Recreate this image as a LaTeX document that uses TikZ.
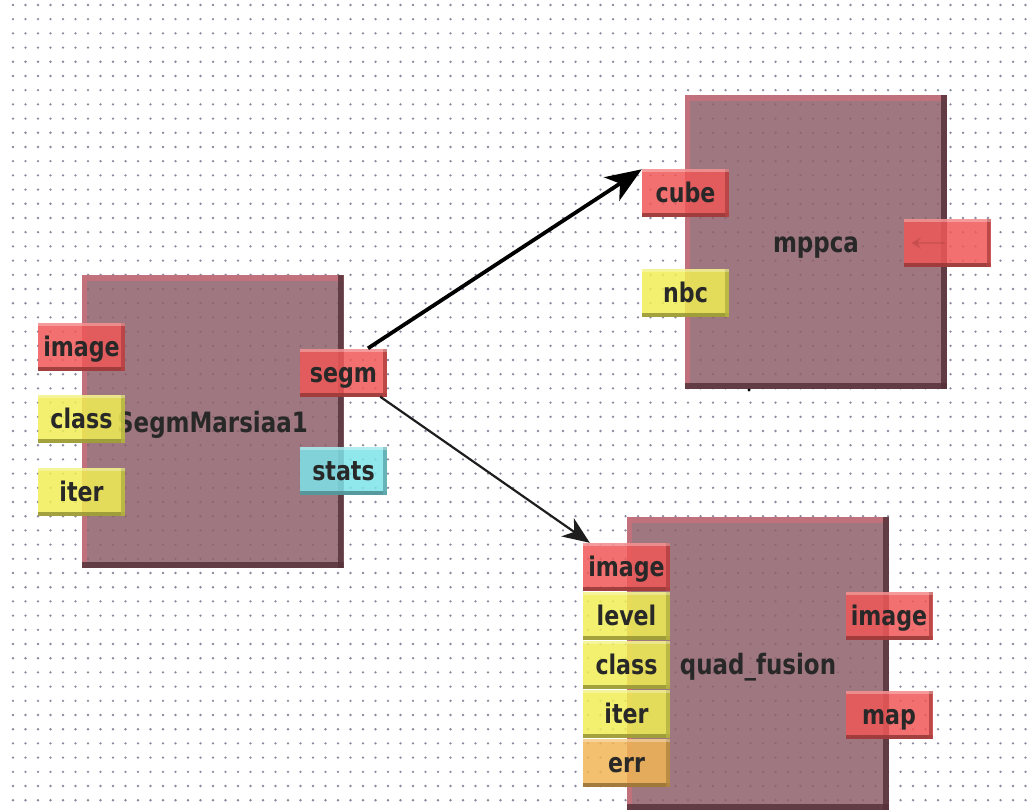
\documentclass[tikz,border=0pt]{standalone}
\usepackage{fontspec}
\newfontfamily\boxfont{DejaVu Sans}[FakeStretch=0.82]
\usetikzlibrary{arrows.meta}

\definecolor{modbody}{RGB}{143,96,106}
\definecolor{modtop}{RGB}{200,112,124}
\definecolor{modshade}{RGB}{88,50,58}
\definecolor{portred}{RGB}{240,88,88}
\definecolor{portyellow}{RGB}{240,238,85}
\definecolor{portcyan}{RGB}{126,228,233}
\definecolor{portorange}{RGB}{240,181,85}
\definecolor{labelgray}{RGB}{40,40,40}
\definecolor{griddot}{RGB}{138,138,158}
\definecolor{wire}{RGB}{30,30,30}

\tikzset{
  module/.style={fill=modbody, fill opacity=0.85, text opacity=1,
    minimum width=262pt, minimum height=293pt, inner sep=0pt,
    text=labelgray, font=\boxfont\bfseries\fontsize{28}{30}\selectfont,
    text height=23pt, text depth=2pt,
    path picture={
      \fill[modtop] (path picture bounding box.north west) rectangle ([yshift=-6pt]path picture bounding box.north east);
      \fill[modtop] (path picture bounding box.north west) rectangle ([xshift=5pt]path picture bounding box.south west);
      \fill[modshade] ([xshift=-6pt]path picture bounding box.north east) rectangle (path picture bounding box.south east);
      \fill[modshade] ([yshift=6pt]path picture bounding box.south west) rectangle (path picture bounding box.south east);
    }},
  port/.style={fill=#1, fill opacity=0.85, text opacity=1,
    minimum width=87pt, minimum height=48pt, inner sep=0pt,
    text=labelgray, font=\boxfont\bfseries\fontsize{27}{29}\selectfont,
    text height=22pt, text depth=3pt,
    path picture={
      \fill[#1!62!black] ([yshift=4pt]path picture bounding box.south west) rectangle (path picture bounding box.south east);
      \fill[#1!75!black] ([xshift=-4pt]path picture bounding box.north east) rectangle (path picture bounding box.south east);
      \fill[white, fill opacity=0.3] (path picture bounding box.north west) rectangle ([yshift=-3pt]path picture bounding box.north east);
    }},
  wirebold/.style={draw=black, line width=3.8pt,
    -{Stealth[length=36pt, width=28pt, inset=10pt]}},
  wirethin/.style={draw=wire, line width=2.2pt,
    -{Stealth[length=27pt, width=22pt, inset=8pt]}},
}

\begin{document}
\begin{tikzpicture}[x=1pt, y=-1pt]
  % canvas and dotted grid
  \fill[white] (0,0) rectangle (1035,810);
  \useasboundingbox (0,0) rectangle (1035,810);
  \foreach \i in {0,...,82}
    \foreach \j in {0,...,57}
      \fill[griddot] ({13+12.5*\i},{5+14.2*\j}) circle[radius=1.3pt];

  % module bodies
  \node[module] (segmbox) at (212.5,421.5) {SegmMarsiaa1};
  \node[module] (mppcabox) at (816,242) {mppca};
  \node[module] (quadbox) at (758,663.5) {quad\_fusion};
  \fill[black] (749,390) circle[radius=1.6pt];

  % SegmMarsiaa1 ports
  \node[port=portred]    (simage) at (81.5,347)  {image};
  \node[port=portyellow] (sclass) at (81.5,419)  {class};
  \node[port=portyellow] (siter)  at (81.5,491.5) {iter};
  \node[port=portred]    (segm)   at (343.5,372.5) {segm};
  \node[port=portcyan]   (stats)  at (343.5,471) {stats};

  % mppca ports
  \node[port=portred]    (cube) at (685.5,193.5) {cube};
  \node[port=portyellow] (nbc)  at (685.5,292.5) {nbc};
  \node[port=portred]    (mout) at (947,243) {};
  \draw[portred!55!black, opacity=0.18, line width=2.5pt, -{Stealth[length=10pt, width=12pt]}]
    ([xshift=-2pt]mout.center) -- ([xshift=-36pt]mout.center);

  % quad_fusion ports
  \node[port=portred]    (qimage) at (626.5,567)   {image};
  \node[port=portyellow] (qlevel) at (626.5,615.5) {level};
  \node[port=portyellow] (qclass) at (626.5,664.5) {class};
  \node[port=portyellow] (qiter)  at (626.5,713.5) {iter};
  \node[port=portorange] (qerr)   at (626.5,763)   {err};
  \node[port=portred]    (qout)   at (889,616)     {image};
  \node[port=portred]    (qmap)   at (889,715)     {map};

  % connections
  \draw[wirebold] ([xshift=24.5pt]segm.north) -- (cube.north west);
  \draw[wirethin] ([xshift=-7pt]segm.south east) -- ([xshift=7pt]qimage.north west);
\end{tikzpicture}
\end{document}
